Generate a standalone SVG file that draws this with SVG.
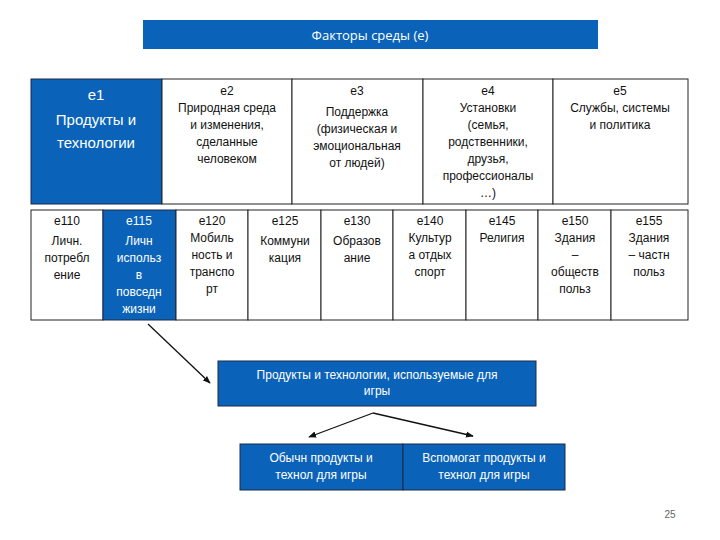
<svg xmlns="http://www.w3.org/2000/svg" width="720" height="540" viewBox="0 0 720 540">
<style>
text{font-family:"Liberation Sans",Arial,sans-serif;font-size:12px;text-anchor:middle;fill:#111}
.w{fill:#fff}
.b{fill:#0a63b8;stroke:#1c2a44;stroke-width:1}
.c{fill:#fff;stroke:#222;stroke-width:1}
.l{stroke:#111;stroke-width:1.3;fill:none;marker-end:url(#a)}
</style>
<defs><marker id="a" viewBox="0 0 10 10" refX="9" refY="5" markerWidth="6" markerHeight="6" orient="auto"><path d="M0,1 L10,5 L0,9z" fill="#111"/></marker></defs>
<rect width="720" height="540" fill="#fff"/>
<g id="title"><rect x="143" y="20" width="455" height="29" fill="#0a63b8"/><text x="370" y="40" class="w" style="font-family:'Open Sans',sans-serif;font-size:13px">Факторы среды  (e)</text></g>
<g id="e1"><rect class="b" x="31" y="79" width="131" height="125"/><text class="w" x="96" y="100" style="font-size:15px">e1</text><text class="w" x="96" y="125" style="font-size:15px">Продукты и</text><text class="w" x="96" y="148" style="font-size:15px">технологии</text></g>
<g id="e2"><rect class="c" x="162" y="79" width="130" height="125"/><text x="227" y="95">e2</text><text x="227" y="112">Природная среда</text><text x="227" y="129">и изменения,</text><text x="227" y="146">сделанные</text><text x="227" y="163">человеком</text></g>
<g id="e3"><rect class="c" x="292" y="79" width="131" height="125"/><text x="357" y="95">e3</text><text x="357" y="116">Поддержка</text><text x="357" y="133">(физическая и</text><text x="357" y="150">эмоциональная</text><text x="357" y="167">от людей)</text></g>
<g id="e4"><rect class="c" x="423" y="79" width="130" height="125"/><text x="488" y="95">e4</text><text x="488" y="112">Установки</text><text x="488" y="129">(семья,</text><text x="488" y="146">родственники,</text><text x="488" y="163">друзья,</text><text x="488" y="180">профессионалы</text><text x="488" y="197">…)</text></g>
<g id="e5"><rect class="c" x="553" y="79" width="135" height="125"/><text x="620" y="95">e5</text><text x="620" y="112">Службы, системы</text><text x="620" y="129">и политика</text></g>
<g id="e110"><rect class="c" x="31" y="210" width="72" height="110"/><text x="67" y="225">e110</text><text x="67" y="245">Личн.</text><text x="67" y="262">потребл</text><text x="67" y="279">ение</text></g>
<g id="e115"><rect class="b" x="103" y="210" width="73" height="110"/><text class="w" x="139" y="225">e115</text><text class="w" x="139" y="245">Личн</text><text class="w" x="139" y="262">использ</text><text class="w" x="139" y="279">в</text><text class="w" x="139" y="296">повседн</text><text class="w" x="139" y="313">жизни</text></g>
<g id="e120"><rect class="c" x="176" y="210" width="72" height="110"/><text x="212" y="225">e120</text><text x="212" y="242">Мобиль</text><text x="212" y="259">ность и</text><text x="212" y="276">транспо</text><text x="212" y="293">рт</text></g>
<g id="e125"><rect class="c" x="248" y="210" width="73" height="110"/><text x="285" y="225">e125</text><text x="285" y="245">Коммуни</text><text x="285" y="262">кация</text></g>
<g id="e130"><rect class="c" x="321" y="210" width="72" height="110"/><text x="357" y="225">e130</text><text x="357" y="245">Образов</text><text x="357" y="262">ание</text></g>
<g id="e140"><rect class="c" x="393" y="210" width="73" height="110"/><text x="430" y="225">e140</text><text x="430" y="242">Культур</text><text x="430" y="259">а отдых</text><text x="430" y="276">спорт</text></g>
<g id="e145"><rect class="c" x="466" y="210" width="72" height="110"/><text x="502" y="225">e145</text><text x="502" y="242">Религия</text></g>
<g id="e150"><rect class="c" x="538" y="210" width="73" height="110"/><text x="575" y="225">e150</text><text x="575" y="242">Здания</text><text x="575" y="259">–</text><text x="575" y="276">обществ</text><text x="575" y="293">польз</text></g>
<g id="e155"><rect class="c" x="611" y="210" width="77" height="110"/><text x="649" y="225">e155</text><text x="649" y="242">Здания</text><text x="649" y="259">– частн</text><text x="649" y="276">польз</text></g>
<g id="games"><rect class="b" x="218" y="361" width="318" height="45"/><text class="w" x="377" y="379">Продукты и технологии, используемые для</text><text class="w" x="377" y="395">игры</text></g>
<g id="common"><rect class="b" x="240" y="444" width="163" height="46"/><text class="w" x="321" y="462">Обычн продукты и</text><text class="w" x="321" y="479">технол для игры</text></g>
<g id="assist"><rect class="b" x="403" y="444" width="162" height="46"/><text class="w" x="484" y="462">Вспомогат продукты и</text><text class="w" x="484" y="479">технол для игры</text></g>
<g id="connectors"><path class="l" d="M148,324 L210,383"/><path class="l" d="M373,413 L309,437"/><path class="l" d="M373,413 L473,436"/></g>
<text x="670" y="518" style="font-size:10px;fill:#666">25</text>
</svg>
